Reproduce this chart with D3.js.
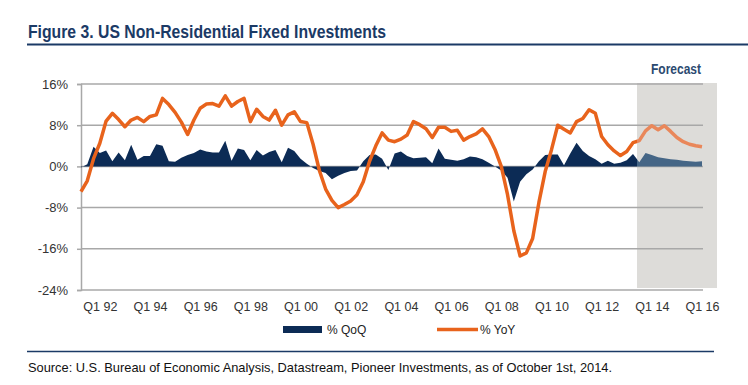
<!DOCTYPE html>
<html>
<head>
<meta charset="utf-8">
<script src="https://cdn.jsdelivr.net/npm/d3@7"></script>
<style>
  html, body { margin: 0; padding: 0; background: #fff; }
  svg { display: block; font-family: "Liberation Sans", Arial, sans-serif; }
</style>
</head>
<body>
<svg id="chart" width="748" height="385"></svg>
<script>
// quarterly, Q2 91 .. Q1 16
const quarters = d3.range(100).map(i => {
  const q = (i + 1) % 4 + 1
  const yr = 1991 + Math.floor((i + 1) / 4)
  return `Q${q} ${String(yr % 100).padStart(2, '0')}`
})

const tickLabels = ['Q1 92', 'Q1 94', 'Q1 96', 'Q1 98', 'Q1 00', 'Q1 02', 'Q1 04',
  'Q1 06', 'Q1 08', 'Q1 10', 'Q1 12', 'Q1 14', 'Q1 16']

const yTicks = [-24, -16, -8, 0, 8, 16]

const yoy = [
  -4.9, -2.8, 1.5, 4.5, 8.8, 10.3, 9.1, 7.7, 9.0, 9.5,
  8.7, 9.7, 10.0, 13.2, 12.0, 10.5, 8.6, 6.2, 9.0, 11.3,
  12.1, 12.2, 11.7, 13.7, 11.7, 12.6, 13.2, 8.7, 11.1, 9.7,
  9.0, 10.9, 8.0, 10.0, 10.6, 8.7, 8.5, 4.3, -0.8, -4.4,
  -6.6, -8.0, -7.4, -6.7, -5.5, -3.0, 1.0, 4.0, 6.5, 5.1,
  4.8, 5.3, 6.1, 8.7, 8.1, 7.3, 5.6, 7.6, 7.6, 6.8,
  7.0, 5.1, 5.8, 6.3, 7.3, 5.8, 3.3, 0.0, -5.5, -12.5,
  -17.4, -16.8, -14.0, -7.0, -1.0, 3.2, 8.0, 7.2, 6.5, 8.7,
  9.3, 11.0, 10.3, 5.8, 4.2, 3.0, 2.1, 2.9, 4.6, 5.0,
  6.9, 7.9, 7.1, 7.9, 6.8, 5.6, 4.8, 4.3, 4.0, 3.8
]

const qoq = [
  -0.2, 0.4, 3.8, 2.6, 3.1, 1.0, 2.7, 1.2, 4.2, 1.3,
  2.0, 2.0, 4.3, 4.0, 1.0, 0.9, 1.7, 2.2, 2.6, 3.3,
  2.9, 2.7, 2.7, 5.0, 1.1, 3.5, 3.2, 1.2, 3.2, 2.1,
  2.8, 3.2, 0.8, 3.6, 3.0, 1.5, 0.5, -0.3, -0.9, -1.3,
  -2.5, -1.8, -1.3, -0.9, -0.8, 1.0, 2.2, 2.3, 1.5, -0.7,
  2.5, 2.9, 2.0, 1.6, 1.7, 1.8, 0.6, 3.5, 1.5, 1.3,
  1.1, 1.4, 1.9, 1.8, 1.4, 0.7, 0.0, -0.8, -2.2, -6.8,
  -3.0, -1.5, -0.6, 1.0, 2.2, 2.3, 2.3, 0.2, 2.5, 4.6,
  3.0, 2.0, 1.4, 0.5, 1.1, 0.5, 0.7, 1.2, 2.4, 0.8,
  2.6, 2.2, 1.8, 1.6, 1.4, 1.3, 1.1, 1.0, 0.9, 1.0
]

const forecastStart = 'Q3 13'

const navy = '#0c2b55'
const navyLight = '#456686'
const orange = '#e8631c'
const orangeLight = '#e9875a'
const gridColor = '#a8a8a8'

const svg = d3.select('#chart')

const plot = { left: 81, right: 703, top: 84, bottom: 290 }

const x = d3.scalePoint()
  .domain(quarters)
  .range([plot.left, 702])

const y = d3.scaleLinear()
  .domain([-24, 16])
  .range([plot.bottom, plot.top])

// title
svg.append('text')
  .attr('x', 28)
  .attr('y', 38)
  .attr('fill', '#1b3a66')
  .attr('font-family', '"Liberation Sans Narrow", "Liberation Sans", Arial, sans-serif')
  .attr('font-size', 18)
  .attr('font-weight', 'bold')
  .attr('textLength', 358)
  .attr('lengthAdjust', 'spacingAndGlyphs')
  .text('Figure 3. US Non-Residential Fixed Investments')

svg.append('line')
  .attr('x1', 27).attr('x2', 748)
  .attr('y1', 44.5).attr('y2', 44.5)
  .attr('stroke', '#1b3a66')
  .attr('stroke-width', 2)

// forecast band
const fx = 637
svg.append('rect')
  .attr('x', fx)
  .attr('y', 83)
  .attr('width', 717 - fx)
  .attr('height', 288 - 83)
  .attr('fill', '#dddcd9')

svg.append('text')
  .attr('x', 676)
  .attr('y', 74)
  .attr('text-anchor', 'middle')
  .attr('fill', '#2c4a70')
  .attr('font-family', '"Liberation Sans Narrow", "Liberation Sans", Arial, sans-serif')
  .attr('font-size', 14)
  .attr('font-weight', 'bold')
  .attr('textLength', 50)
  .attr('lengthAdjust', 'spacingAndGlyphs')
  .text('Forecast')

// gridlines
svg.append('g')
  .selectAll('line')
  .data(yTicks.filter(d => d !== -24))
  .join('line')
  .attr('x1', plot.left).attr('x2', plot.right)
  .attr('y1', d => y(d)).attr('y2', d => y(d))
  .attr('stroke', gridColor)
  .attr('stroke-width', 1.5)

// y axis
const yAxis = svg.append('g')
  .attr('transform', `translate(${plot.left},0)`)
  .call(d3.axisLeft(y).tickValues(yTicks).tickSize(4).tickPadding(9).tickFormat(d => d + '%'))
yAxis.select('.domain').attr('stroke', gridColor).attr('stroke-width', 1.5)
yAxis.selectAll('.tick line').attr('stroke', gridColor).attr('stroke-width', 1.5)
yAxis.selectAll('.tick text')
  .attr('fill', '#333')
  .attr('font-size', 13)
  .attr('font-family', '"Liberation Sans", Arial, sans-serif')

// x axis
const xAxis = svg.append('g')
  .attr('transform', `translate(0,${plot.bottom})`)
  .call(d3.axisBottom(x).tickValues(tickLabels).tickSize(0).tickPadding(12))
xAxis.select('.domain')
  .attr('d', `M${plot.left},0H${plot.right}`)
  .attr('stroke', gridColor)
  .attr('stroke-width', 1.5)
xAxis.selectAll('.tick text')
  .attr('fill', '#333')
  .attr('font-size', 12.5)
  .attr('font-family', '"Liberation Sans", Arial, sans-serif')

// clip paths: history vs forecast
const defs = svg.append('defs')
defs.append('clipPath').attr('id', 'clip-hist')
  .append('rect').attr('x', 0).attr('y', 0).attr('width', fx).attr('height', 385)
defs.append('clipPath').attr('id', 'clip-fc')
  .append('rect').attr('x', fx).attr('y', 0).attr('width', 748 - fx).attr('height', 385)

const area = d3.area()
  .x((d, i) => x(quarters[i]))
  .y0(y(0))
  .y1(d => y(d))

const line = d3.line()
  .x((d, i) => x(quarters[i]))
  .y(d => y(d))

const parts = [
  { clip: 'url(#clip-hist)', fill: navy, stroke: orange },
  { clip: 'url(#clip-fc)', fill: navyLight, stroke: orangeLight }
]

parts.forEach(p => {
  const g = svg.append('g').attr('clip-path', p.clip)
  g.append('path')
    .datum(qoq)
    .attr('d', area)
    .attr('fill', p.fill)
  g.append('path')
    .datum(yoy)
    .attr('d', line)
    .attr('fill', 'none')
    .attr('stroke', p.stroke)
    .attr('stroke-width', 3.5)
    .attr('stroke-linejoin', 'round')
})

// legend
const legend = svg.append('g')
legend.append('rect')
  .attr('x', 283).attr('y', 326)
  .attr('width', 39).attr('height', 7)
  .attr('fill', navy)
legend.append('text')
  .attr('x', 327).attr('y', 334)
  .attr('fill', '#222')
  .attr('font-size', 12)
  .attr('font-family', '"Liberation Sans Narrow", "Liberation Sans", Arial, sans-serif')
  .text('% QoQ')
legend.append('line')
  .attr('x1', 437).attr('x2', 478)
  .attr('y1', 329.5).attr('y2', 329.5)
  .attr('stroke', orange)
  .attr('stroke-width', 3.5)
legend.append('text')
  .attr('x', 480).attr('y', 334)
  .attr('fill', '#222')
  .attr('font-size', 12)
  .attr('font-family', '"Liberation Sans Narrow", "Liberation Sans", Arial, sans-serif')
  .text('% YoY')

// source
svg.append('line')
  .attr('x1', 27).attr('x2', 714)
  .attr('y1', 351.5).attr('y2', 351.5)
  .attr('stroke', '#1b3a66')
  .attr('stroke-width', 1.5)

svg.append('text')
  .attr('x', 28)
  .attr('y', 372)
  .attr('fill', '#111')
  .attr('font-size', 13)
  .attr('font-family', '"Liberation Sans Narrow", "Liberation Sans", Arial, sans-serif')
  .attr('textLength', 584)
  .attr('lengthAdjust', 'spacingAndGlyphs')
  .text('Source: U.S. Bureau of Economic Analysis, Datastream, Pioneer Investments, as of October 1st, 2014.')
</script>
</body>
</html>
